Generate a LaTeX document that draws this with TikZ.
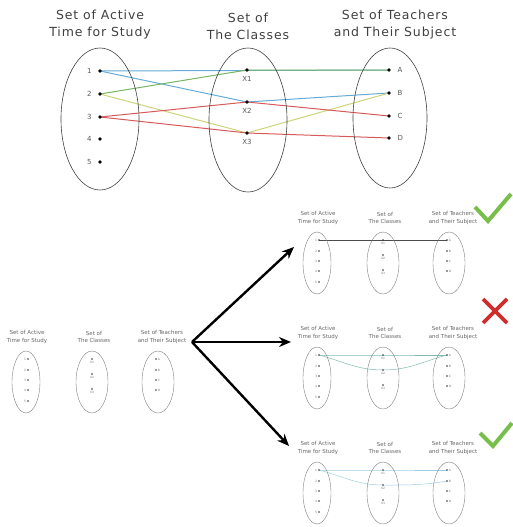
\documentclass[tikz,border=0pt]{standalone}
\usepackage{fontspec}
\setmainfont{DejaVu Sans}
\usetikzlibrary{arrows.meta}
\usetikzlibrary{positioning}
\usetikzlibrary{backgrounds}

\definecolor{linkblue}{RGB}{100,172,215}
\definecolor{linkgreen}{RGB}{120,182,100}
\definecolor{linkyellow}{RGB}{205,212,120}
\definecolor{linkred}{RGB}{215,90,90}
\definecolor{linkteal}{RGB}{125,185,175}
\definecolor{linksky}{RGB}{155,205,228}
\definecolor{okgreen}{RGB}{120,190,75}
\definecolor{badred}{RGB}{210,45,45}

\tikzset{
  setring/.style={draw=black!75,line width=0.6pt},
  minring/.style={draw=black!50,line width=0.4pt},
  bigtitle/.style={align=center,text=black!75,font=\fontsize{12.5}{17}\selectfont\addfontfeatures{LetterSpace=7}},
  smalltitle/.style={align=center,text=black!60,font=\fontsize{5.5}{7.5}\selectfont},
  dot/.style={circle,fill=black,inner sep=0pt,minimum size=3.6pt},
  minidot/.style={circle,fill=black!80,inner sep=0pt,minimum size=1.8pt},
  numlbl/.style={text=black!65,font=\fontsize{7}{8}\selectfont,label distance=3pt},
  tinylbl/.style={text=black!55,font=\fontsize{3}{3.5}\selectfont,inner sep=0.6pt},
  link/.style={line width=1pt},
  minilink/.style={line width=0.5pt},
  bigarrow/.style={line width=2.4pt,-{Stealth[length=12pt,width=10pt]}},
  tick/.style={draw=okgreen,line width=4pt},
  cross/.style={draw=badred,line width=3.6pt},
  pics/minisets/.style={code={
    \draw[minring] (0,0) ellipse [x radius=14,y radius=31];
    \draw[minring] (66,0) ellipse [x radius=16,y radius=31];
    \draw[minring] (132,0) ellipse [x radius=16,y radius=31];
    \node[smalltitle] (-h1) at (1,-45) {Set of Active\\Time for Study};
    \node[smalltitle] (-h2) at (68,-45) {Set of\\The Classes};
    \node[smalltitle] (-h3) at (136,-45) {Set of Teachers\\and Their Subject};
    \node[minidot,label={[tinylbl]left:1}] (-n1) at (2,-23) {};
    \node[minidot,label={[tinylbl]left:2}] (-n2) at (2,-12) {};
    \node[minidot,label={[tinylbl]left:3}] (-n3) at (2,-2) {};
    \node[minidot,label={[tinylbl]left:4}] (-n4) at (2,8) {};
    \node[minidot,label={[tinylbl]left:5}] (-n5) at (2,19) {};
    \node[minidot,label={[tinylbl]below:X1}] (-x1) at (66,-23) {};
    \node[minidot,label={[tinylbl]below:X2}] (-x2) at (66,-8) {};
    \node[minidot,label={[tinylbl]below:X3}] (-x3) at (66,7) {};
    \node[minidot,label={[tinylbl]right:A}] (-a) at (130,-23) {};
    \node[minidot,label={[tinylbl]right:B}] (-b) at (130,-12) {};
    \node[minidot,label={[tinylbl]right:C}] (-c) at (130,-2) {};
    \node[minidot,label={[tinylbl]right:D}] (-d) at (130,8) {};
  }}
}

\begin{document}
\begin{tikzpicture}[x=1pt,y=-1pt,on grid]
\useasboundingbox (0,0) rectangle (513,527);
% big sets on top
\draw[setring] (100,119) ellipse [x radius=39,y radius=71];
\draw[setring] (248,120) ellipse [x radius=39,y radius=72];
\draw[setring] (390,118) ellipse [x radius=37,y radius=70];
\node[bigtitle] (head1) at (100,24.5) {Set of Active\\Time for Study};
\node[bigtitle] (head2) at (248,26) {Set of\\The Classes};
\node[bigtitle] (head3) at (395,24.5) {Set of Teachers\\and Their Subject};
\node[dot,label={[numlbl]left:1}] (t1) at (100,71) {};
\node[dot,below=23pt of t1,label={[numlbl]left:2}] (t2) {};
\node[dot,below=23pt of t2,label={[numlbl]left:3}] (t3) {};
\node[dot,below=22pt of t3,label={[numlbl]left:4}] (t4) {};
\node[dot,below=23pt of t4,label={[numlbl]left:5}] (t5) {};
\node[dot,label={[numlbl,label distance=1pt]below:X1}] (tx1) at (247,70) {};
\node[dot,below=32pt of tx1,label={[numlbl,label distance=1pt]below:X2}] (tx2) {};
\node[dot,below=31pt of tx2,label={[numlbl,label distance=1pt]below:X3}] (tx3) {};
\node[dot,label={[numlbl]right:A}] (ta) at (389,70) {};
\node[dot,below=23pt of ta,label={[numlbl]right:B}] (tb) {};
\node[dot,below=23pt of tb,label={[numlbl]right:C}] (tc) {};
\node[dot,below=22pt of tc,label={[numlbl]right:D}] (td) {};
\begin{scope}[on background layer]
\draw[link,linkblue] (t1.center) -- (ta.center);
\draw[link,linkblue] (t1.center) -- (tx2.center) -- (tb.center);
\draw[link,linkgreen] (t2.center) -- (tx1.center) -- (ta.center);
\draw[link,linkyellow] (t2.center) -- (tx3.center) -- (tb.center);
\draw[link,linkred] (t3.center) -- (tx2.center) -- (tc.center);
\draw[link,linkred] (t3.center) -- (tx3.center) -- (td.center);
\end{scope}
% small sets
\pic (lf) at (26,382) {minisets};
\pic (tr) at (317,263) {minisets};
\pic (md) at (317,378) {minisets};
\pic (bt) at (317,493) {minisets};
\begin{scope}[on background layer]
\draw[minilink,black!70] (tr-n1.center) -- (tr-a.center);
\draw[minilink,linkteal] (md-n1.center) -- (md-x1.center) -- (md-a.center);
\draw[minilink,linkteal] (md-n1.center) to[out=-15,in=180] (md-x2.center) to[out=0,in=195] (md-a.center);
\draw[minilink,linksky] (bt-n1.center) -- (bt-x1.center) -- (bt-a.center);
\draw[minilink,linksky] (bt-n1.center) to[out=-15,in=180] (bt-x2.center) to[out=0,in=190] (bt-b.center);
\end{scope}
% the three cases
\coordinate (fork) at (192,342);
\coordinate (caseok) at (294,247);
\coordinate (casebad) at (291,342);
\coordinate (caseok2) at (289,446);
\draw[bigarrow] (fork) -- (caseok);
\draw[bigarrow] (fork) -- (casebad);
\draw[bigarrow] (fork) -- (caseok2);
\draw[tick] (475,207) -- (488,221) -- (511,194);
\draw[cross] (483,299) -- (507,323) (507,299) -- (483,323);
\draw[tick] (480,433) -- (493,446) -- (512,423);
\end{tikzpicture}
\end{document}
